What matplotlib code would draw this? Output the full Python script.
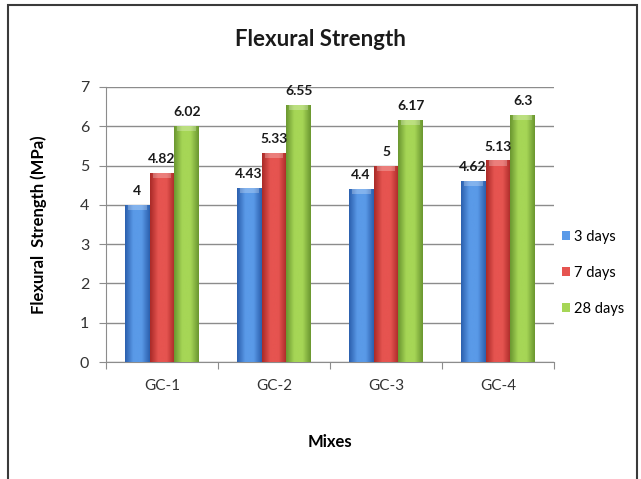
import numpy as np
import matplotlib
matplotlib.use("Agg")
import matplotlib.pyplot as plt
from matplotlib.patches import Rectangle
from matplotlib.colors import LinearSegmentedColormap

plt.rcParams['font.family'] = ['Lato', 'DejaVu Sans']

# Flexural strength (MPa) per mix and curing age
mixes = ["GC-1", "GC-2", "GC-3", "GC-4"]
ages = ["3 days", "7 days", "28 days"]
strength_3d = [4.0, 4.43, 4.4, 4.62]
strength_7d = [4.82, 5.33, 5.0, 5.13]
strength_28d = [6.02, 6.55, 6.17, 6.3]
value_labels = [["4", "4.43", "4.4", "4.62"],
                ["4.82", "5.33", "5", "5.13"],
                ["6.02", "6.55", "6.17", "6.3"]]

# (edge, centre) shades for the bevelled bar fill
shades = [("#2b5fad", "#5a9ae8"),
          ("#a92a27", "#e65450"),
          ("#6a9630", "#a6d656")]

fig = plt.figure(figsize=(6.41, 4.79), dpi=100)
fig.patch.set_facecolor("white")
ax = fig.add_axes([106 / 641, 1 - 362 / 479, 448 / 641, 275 / 479])

x = np.arange(len(mixes))
width = 0.223
series = [strength_3d, strength_7d, strength_28d]

for i, (vals, (dark, light), name) in enumerate(zip(series, shades, ages)):
    offs = (i - 1) * width
    bars = ax.bar(x + offs, vals, width, color=light, edgecolor="none",
                  label=name, zorder=2)
    cmap = LinearSegmentedColormap.from_list(name, [dark, light, light, dark])
    grad = np.linspace(0, 1, 64).reshape(1, -1)
    for bar, lab in zip(bars, value_labels[i]):
        bx, bw, bh = bar.get_x(), bar.get_width(), bar.get_height()
        im = ax.imshow(grad, cmap=cmap, aspect="auto", zorder=3,
                       extent=[bx, bx + bw, 0, bh], interpolation="bicubic")
        im.set_clip_path(bar)
        # light bevel on the top of each bar
        ax.add_patch(Rectangle((bx + bw * 0.12, bh - 0.13), bw * 0.76, 0.13,
                               facecolor="white", alpha=0.25, edgecolor="none",
                               zorder=4))
        ax.text(bx + bw / 2, bh + 0.2, lab, ha="center", va="bottom",
                fontsize=10, fontweight="bold", color="#1a1a1a", zorder=5)

ax.set_xlim(-0.5, len(mixes) - 0.5)
ax.set_ylim(0, 7)
ax.set_yticks(range(0, 8))
ax.yaxis.grid(True, color="#8c8c8c", linewidth=1)
ax.set_axisbelow(True)

# category boundary ticks on the x axis, labels at centres
ax.set_xticks(np.arange(-0.5, len(mixes), 1.0))
ax.set_xticklabels([])
ax.set_xticks(x, minor=True)
ax.set_xticklabels(mixes, minor=True, fontsize=11, color="#333333")
ax.tick_params(axis="x", which="major", length=5, color="#8c8c8c")
ax.tick_params(axis="x", which="minor", length=0, pad=12)
ax.tick_params(axis="y", length=5, color="#8c8c8c", labelsize=11.5,
               labelcolor="#333333", pad=7)

for side in ["top", "right"]:
    ax.spines[side].set_visible(False)
ax.spines["left"].set_color("#8c8c8c")
ax.spines["bottom"].set_color("#8c8c8c")

ax.set_xlabel("Mixes", fontsize=12, fontweight="bold", labelpad=30)
ax.set_ylabel("Flexural  Strength (MPa)", fontsize=12, fontweight="bold",
              labelpad=24)

fig.text(0.5, 1 - 40 / 479, "Flexural Strength", ha="center", va="center",
         fontsize=16, fontweight="bold", color="#1a1a1a")

ax.legend(loc="center left", bbox_to_anchor=(0.995, 0.324), frameon=False,
          fontsize=10.5, handlelength=0.55, handleheight=0.55,
          handletextpad=0.3, labelspacing=1.5, borderpad=0.2)

# outer chart frame
fig.patches.append(Rectangle((8 / 641, -0.05), 629 / 641, 1.05 - 5 / 479,
                             transform=fig.transFigure, fill=False,
                             edgecolor="#3a3a3a", linewidth=1.5))

fig.savefig("out.png", dpi=100)
